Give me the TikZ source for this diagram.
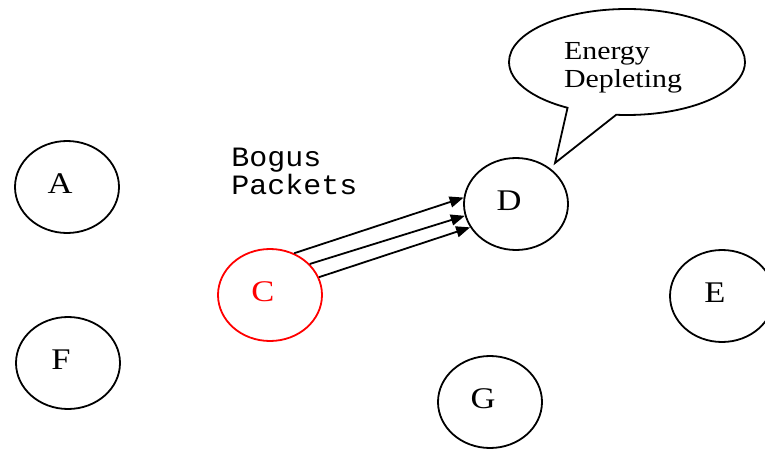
\documentclass[tikz,border=0pt]{standalone}
\usepackage{fontspec}
\setmainfont{Liberation Serif}[FakeStretch=1.15]
\newfontfamily\packetfont{Liberation Mono}[FakeStretch=1.07]
\usetikzlibrary{arrows.meta,shapes.geometric,shapes.callouts}
\tikzset{
  station/.style 2 args={draw=#2, line width=0.9pt, ellipse, minimum width=52pt, minimum height=46pt,
    label={[xshift=-3.5pt, yshift=1.5pt, text=#2, font=\fontsize{15}{18}\selectfont]center:#1}},
  packet/.style={line width=0.9pt, -{Triangle[length=7pt,width=5.5pt]}}
}
\begin{document}
\begin{tikzpicture}[x=0.5pt,y=-0.5pt]
\useasboundingbox (0,0) rectangle (765,449);
% nodes
\node[station={A}{black}] (A) at (67,187) {};
\node[station={F}{black}] (F) at (68,363) {};
\node[station={C}{red}] (C) at (270,295) {};
\node[station={D}{black}] (D) at (516,204) {};
\node[station={E}{black}] (E) at (722,296) {};
\node[station={G}{black}] (G) at (490,402) {};
% bogus packets
\node[anchor=west, align=left, inner sep=0pt, font=\packetfont\fontsize{14}{14}\selectfont] (bogus) at (231,171) {Bogus\\Packets};
\draw[packet] (C.60) -- (D.173);
\draw[packet] (C.38) -- (D.193);
\draw[packet] (C.20) -- (D.207);
% callout
\coordinate (tip) at (555,163);
\node[draw, line width=0.9pt, ellipse callout, minimum width=118pt, minimum height=52pt,
  callout absolute pointer={(tip)}, callout pointer arc=25, align=left,
  font=\fontsize{13}{14}\selectfont] (energy) at (627,62) {\rule{0pt}{14pt}Energy\\Depleting\hspace*{4pt}};
\end{tikzpicture}
\end{document}
